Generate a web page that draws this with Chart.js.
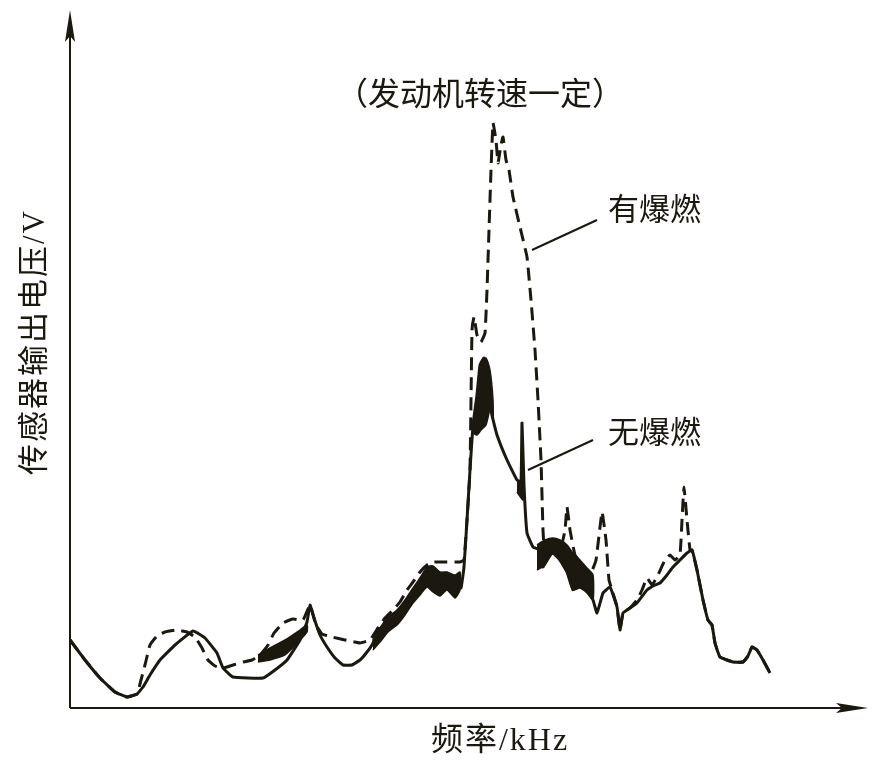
<!DOCTYPE html>
<html>
<head>
<meta charset="utf-8">
<script src="https://cdn.jsdelivr.net/npm/chart.js@4/dist/chart.umd.min.js"></script>
<style>
  html, body { margin: 0; padding: 0; background: #ffffff; }
  #wrap { width: 879px; height: 765px; position: relative; }
</style>
</head>
<body>
<div id="wrap"><canvas id="c" width="879" height="765"></canvas></div>
<script>
// ---- Data (arbitrary units: frequency along x, sensor output voltage along y) ----
const titleText = "（发动机转速一定）";
const xAxisLabel = "频率/kHz";
const yAxisLabel = "传感器输出电压/V";
const labelKnock = "有爆燃";
const labelNoKnock = "无爆燃";

// 无爆燃 (no knock) – solid curve
const noKnockX = [0,1.5,3.0,4.5,5.7,6.7,7.3,8.0,9.0,10.5,12.3,13.5,14.7,15.3,16.3,19.3,20.5,21.7,23.0,23.7,24.0,24.4,25.0,25.7,26.5,27.3,28.2,29.0,29.7,30.3,30.8,31.3,32.0,32.7,33.5,34.3,35.0,35.7,36.1,36.6,37.0,37.4,37.9,38.3,38.7,39.1,39.4,39.7,40.0,40.3,40.7,41.0,41.4,41.8,42.2,42.7,43.7,44.7,45.1,45.2,45.4,45.7,46.3,47.0,47.3,47.7,48.3,49.0,49.7,50.3,51.0,51.7,52.3,52.7,53.3,54.0,54.7,55.0,55.3,56.0,56.7,57.7,58.5,59.0,59.7,60.3,61.0,61.7,62.2,62.7,63.3,63.8,64.2,64.5,65.0,66.3,67.3,67.8,68.2,68.7,69.3,70.0];
const noKnockY = [6.8,4.8,3.0,1.6,1.1,1.4,2.1,3.3,4.8,6.3,7.7,7.0,5.5,4.0,3.1,3.0,3.8,4.8,6.8,8.6,10.3,9.0,7.3,6.1,5.0,4.3,4.3,4.8,5.6,6.5,8.0,7.8,8.8,9.0,10.3,11.6,12.8,13.6,12.8,12.3,13.0,11.8,12.4,11.6,12.5,12.0,14.1,18.8,23.8,28.3,31.3,34.3,35.0,32.8,29.3,27.3,24.8,22.8,22.6,28.5,22.3,17.5,16.1,15.8,14.1,15.2,15.5,14.8,13.6,11.8,12.3,11.8,10.8,9.5,11.5,12.1,10.1,7.8,9.5,10.0,10.5,11.8,12.3,12.5,13.3,14.1,14.8,15.5,15.8,13.8,10.8,8.8,8.3,6.5,5.1,4.6,4.6,5.2,6.1,5.8,4.8,3.5];

// 有爆燃 (knock) – dashed curve
const knockX = [0,1.5,3.0,4.5,5.7,6.7,7.1,7.5,8.0,8.7,9.5,10.7,11.7,12.5,13.2,13.8,14.5,15.3,16.3,17.3,18.2,19.0,19.8,20.4,21.3,22.3,23.3,24.0,24.6,25.2,26.2,27.5,29.0,30.0,30.8,31.5,32.3,33.0,33.7,34.3,35.0,35.7,36.3,37.7,39.0,39.4,39.7,40.0,40.2,40.4,40.7,41.1,41.5,41.7,41.9,42.1,42.3,42.6,42.8,43.1,43.3,43.6,43.9,44.3,45.0,45.7,46.1,46.5,46.8,47.1,47.3,47.5,48.0,48.6,49.2,49.5,49.7,50.0,50.5,51.2,52.0,52.6,53.2,53.6,53.9,54.2,54.7,55.0,55.3,56.0,56.7,57.2,57.7,58.2,58.8,59.5,60.0,60.5,61.0,61.2,61.4,61.7,62.0,62.2,62.7,63.3,63.8,64.2,64.5,65.0,66.3,67.3,67.8,68.2,68.7,69.3,70.0];
const knockY = [6.8,4.8,3.0,1.6,1.1,1.4,2.8,4.3,6.3,7.2,7.6,7.8,7.6,7.1,6.0,4.8,4.2,4.0,4.3,4.6,4.8,5.3,6.3,7.5,8.5,8.9,8.8,10.3,8.3,7.4,7.1,6.8,6.5,6.8,8.0,9.0,9.8,10.6,11.8,12.6,13.6,14.3,14.6,14.6,14.6,14.8,18.8,23.8,37.8,39.1,37.3,36.6,37.5,41.8,47.8,53.8,58.5,56.8,54.5,56.3,57.1,54.8,53.8,51.1,48.1,45.1,40.8,35.8,30.8,24.8,17.8,14.8,16.3,16.8,16.5,17.8,20.1,17.8,15.3,14.3,13.3,14.8,19.6,16.8,12.8,11.8,10.1,7.8,9.5,10.0,10.8,11.8,13.0,12.3,13.3,14.8,15.3,14.8,15.3,18.8,22.1,18.8,15.8,15.8,13.8,10.8,8.8,8.3,6.5,5.1,4.6,4.6,5.2,6.1,5.8,4.8,3.5];

// Dark overlap zones where both traces oscillate (outline: upper edge then lower edge back)
const overlapAX = [18.8,20.0,21.5,23.0,23.7,23.7,23.0,21.5,20.0,18.8];
const overlapAY = [5.3,6.0,6.8,7.8,8.3,7.6,6.8,5.3,4.8,4.6];
const overlapBX = [30.3,31.0,31.8,32.7,33.5,34.3,35.0,35.7,36.3,37.0,37.7,38.5,39.0,39.0,38.5,37.7,37.0,36.3,35.7,35.0,34.3,33.5,32.7,31.8,31.0,30.3];
const overlapBY = [6.8,8.0,9.1,9.8,10.8,12.0,13.0,14.1,14.2,13.6,13.6,13.3,13.6,11.8,11.0,11.8,11.2,11.6,12.1,11.3,10.5,9.3,8.3,7.6,6.6,5.8];
const overlapCX = [40.3,40.7,41.1,41.6,42.0,42.3,42.3,42.0,41.6,41.1,40.7,40.3];
const overlapCY = [28.3,31.3,34.6,35.0,33.8,30.8,28.8,29.8,28.3,27.8,27.3,27.5];
const overlapDX = [44.7,45.3,45.3,44.7];
const overlapDY = [22.6,22.6,20.8,21.6];
const overlapEX = [46.7,47.5,48.3,49.0,49.7,50.3,51.0,51.7,52.3,52.3,51.7,51.0,50.3,49.7,49.0,48.3,47.5,46.7];
const overlapEY = [16.3,16.8,17.0,16.8,16.3,15.5,14.8,14.0,13.3,10.8,11.5,12.0,11.8,13.6,15.0,15.5,14.3,13.8];

// Scale extents
const xMax = 79.8;
const yMax = 69.8;

// Annotation anchors (data units): leader line start/end and label position
const knockLeader = [46.2, 45.8, 52.7, 48.8];
const noKnockLeader = [45.8, 23.8, 52.3, 26.8];
const knockLabelPos = [53.8, 49.6];
const noKnockLabelPos = [53.8, 27.3];

const ink = "#1b1810";
const cjkFont = '"Liberation Serif", "Noto Sans CJK SC", serif';

function pts(xs, ys) { return xs.map((x, i) => ({ x: x, y: ys[i] })); }

function blob(xs, ys) {
  return {
    data: pts(xs, ys),
    borderColor: ink,
    backgroundColor: ink,
    borderWidth: 1.5,
    pointRadius: 0,
    tension: 0.2,
    fill: 'shape'
  };
}

const decorPlugin = {
  id: 'decor',
  afterDatasetsDraw(chart) {
    const ctx = chart.ctx;
    const a = chart.chartArea;
    const xs = chart.scales.x, ys = chart.scales.y;
    ctx.save();
    ctx.strokeStyle = ink;
    ctx.fillStyle = ink;
    // axes
    ctx.lineWidth = 2;
    ctx.beginPath();
    ctx.moveTo(a.left, a.bottom);
    ctx.lineTo(a.left, a.top + 20);
    ctx.moveTo(a.left, a.bottom);
    ctx.lineTo(a.right - 20, a.bottom);
    ctx.stroke();
    // arrow heads
    ctx.beginPath();
    ctx.moveTo(a.left, a.top);
    ctx.lineTo(a.left - 5, a.top + 32);
    ctx.lineTo(a.left, a.top + 26);
    ctx.lineTo(a.left + 5, a.top + 32);
    ctx.closePath();
    ctx.fill();
    ctx.beginPath();
    ctx.moveTo(a.right, a.bottom);
    ctx.lineTo(a.right - 32, a.bottom - 5);
    ctx.lineTo(a.right - 26, a.bottom);
    ctx.lineTo(a.right - 32, a.bottom + 5);
    ctx.closePath();
    ctx.fill();

    // leader lines
    ctx.lineWidth = 2;
    [knockLeader, noKnockLeader].forEach(L => {
      ctx.beginPath();
      ctx.moveTo(xs.getPixelForValue(L[0]), ys.getPixelForValue(L[1]));
      ctx.lineTo(xs.getPixelForValue(L[2]), ys.getPixelForValue(L[3]));
      ctx.stroke();
    });

    // series labels
    ctx.font = '31px ' + cjkFont;
    ctx.textBaseline = 'middle';
    ctx.textAlign = 'left';
    ctx.fillText(labelKnock, xs.getPixelForValue(knockLabelPos[0]), ys.getPixelForValue(knockLabelPos[1]));
    ctx.fillText(labelNoKnock, xs.getPixelForValue(noKnockLabelPos[0]), ys.getPixelForValue(noKnockLabelPos[1]));

    // title
    ctx.textAlign = 'center';
    ctx.font = '32px ' + cjkFont;
    ctx.fillText(titleText, 480, 97);

    // x axis title
    ctx.font = '32px ' + cjkFont;
    try { ctx.letterSpacing = '2px'; } catch (e) {}
    ctx.fillText(xAxisLabel, 500, 742);

    // y axis title
    ctx.translate(36, 342);
    ctx.rotate(-Math.PI / 2);
    ctx.font = '31px ' + cjkFont;
    ctx.fillText(yAxisLabel, 0, 0);
    ctx.restore();
  }
};

new Chart(document.getElementById('c'), {
  type: 'line',
  data: {
    datasets: [
      {
        label: labelNoKnock,
        data: pts(noKnockX, noKnockY),
        borderColor: ink,
        borderWidth: 3,
        pointRadius: 0,
        tension: 0.1,
        fill: false
      },
      {
        label: labelKnock,
        data: pts(knockX, knockY),
        borderColor: ink,
        borderWidth: 3,
        borderDash: [13, 7],
        pointRadius: 0,
        tension: 0.1,
        fill: false
      },
      blob(overlapAX, overlapAY),
      blob(overlapBX, overlapBY),
      blob(overlapCX, overlapCY),
      blob(overlapDX, overlapDY),
      blob(overlapEX, overlapEY)
    ]
  },
  options: {
    responsive: false,
    animation: false,
    devicePixelRatio: 1,
    layout: { padding: { left: 70, right: 11, top: 10, bottom: 57 } },
    plugins: { legend: { display: false }, tooltip: { enabled: false }, title: { display: false } },
    scales: {
      x: { type: 'linear', min: 0, max: xMax, display: false },
      y: { type: 'linear', min: 0, max: yMax, display: false }
    }
  },
  plugins: [decorPlugin]
});
</script>
</body>
</html>
